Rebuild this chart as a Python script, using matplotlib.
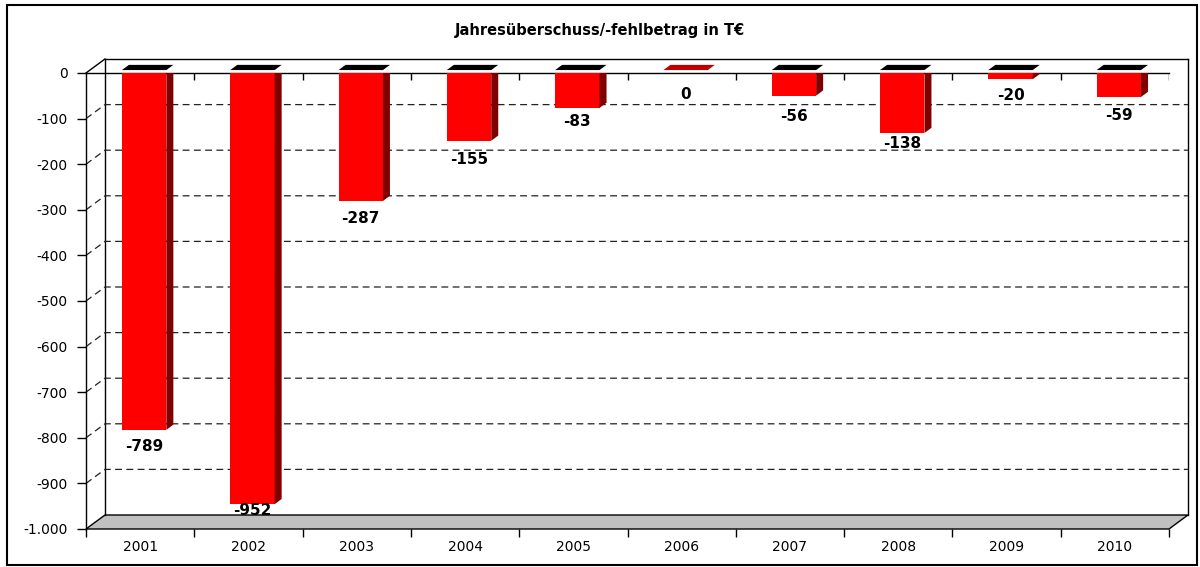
import numpy as np
import matplotlib.pyplot as plt
from matplotlib.patches import Polygon, Rectangle

# data
years = ["2001", "2002", "2003", "2004", "2005", "2006", "2007", "2008", "2009", "2010"]
values = [-789, -952, -287, -155, -83, 0, -56, -138, -20, -59]
ytick_vals = [0, -100, -200, -300, -400, -500, -600, -700, -800, -900, -1000]
ytick_labels = ["0", "-100", "-200", "-300", "-400", "-500", "-600", "-700", "-800", "-900", "-1.000"]
title = "Jahresüberschuss/-fehlbetrag in T€"

# label distance below bar end (pixels), excel placed them a bit unevenly
label_gap = [16.6, 6, 17.6, 18.6, 14, 24, 21, 11, 16, 18.7]

# fake 3d depth (data units): full depth of the plot box
DX = 0.175
DY = 30.7
d0, d1 = 0.21, 0.58   # bar front / back depth fraction
w = 0.41              # bar width in category units

fig = plt.figure(figsize=(12, 5.67), dpi=100)
fig.patch.set_facecolor("white")
ax = fig.add_axes([86 / 1200, 38 / 567, 1083 / 1200, 456 / 567])
ax.set_xlim(0, len(years))
ax.set_ylim(-1000, 0)
ax.patch.set_visible(False)
for s in ["top", "right", "bottom"]:
    ax.spines[s].set_visible(False)
ax.spines["left"].set_linewidth(1.0)

n = len(years)
y0, y1 = ytick_vals[-1], ytick_vals[0]

# floor
floor = Polygon([(0, y0), (n, y0), (n + DX, y0 + DY), (DX, y0 + DY)], closed=True,
                facecolor="#c0c0c0", edgecolor="black", lw=1.0, clip_on=False, zorder=1)
ax.add_patch(floor)

# back wall lines
ax.plot([DX, DX], [y0 + DY, y1 + DY], color="black", lw=1.0, clip_on=False, zorder=1)
ax.plot([n + DX, n + DX], [y0 + DY, y1 + DY], color="black", lw=1.0, clip_on=False, zorder=1)
ax.plot([DX, n + DX], [y1 + DY, y1 + DY], color="black", lw=1.0, clip_on=False, zorder=1)
ax.plot([0, DX], [y1, y1 + DY], color="black", lw=1.0, clip_on=False, zorder=1)

# dashed gridlines on the back wall
for v in ytick_vals[1:-1]:
    ax.plot([0, DX, n + DX], [v, v + DY, v + DY], color="#222222", lw=0.9,
            dashes=(5.5, 3.5), clip_on=False, zorder=1)

# zero line at the front with little ticks
ax.plot([0, n], [0, 0], color="black", lw=1.0, clip_on=False, zorder=2)
ax.vlines(np.arange(1, n + 1), -15, 0, color="black", lw=1.0, zorder=2)

# bars
x = np.arange(n) + 0.5 + d0 * DX
ax.bar(x, values, width=w, bottom=d0 * DY, color="#ff0000", edgecolor="none", zorder=3)
ddx = (d1 - d0) * DX
ddy = (d1 - d0) * DY
for xi, v, gap in zip(x, values, label_gap):
    r = xi + w / 2
    l = xi - w / 2
    top = d0 * DY
    if v != 0:
        side = Polygon([(r, top), (r + ddx, top + ddy), (r + ddx, v + d1 * DY), (r, v + top)],
                       closed=True, facecolor="#800000", edgecolor="none", zorder=3)
        ax.add_patch(side)
        topc = "black"
    else:
        topc = "#c00000"
    tp = Polygon([(l, top), (r, top), (r + ddx, top + ddy), (l + ddx, top + ddy)],
                 closed=True, facecolor=topc, edgecolor="none", zorder=3, clip_on=False)
    ax.add_patch(tp)
    ax.annotate(str(v), (xi, v + top), xytext=(0, -gap * 0.72), textcoords="offset points",
                ha="center", va="center", fontsize=11, fontweight="bold", zorder=4,
                annotation_clip=False)

# front bottom axis ticks and labels
ax.set_xticks(np.arange(0, n + 1))
ax.set_xticklabels([])
ax.set_xticks(np.arange(n) + 0.5, minor=True)
ax.set_xticklabels(years, minor=True, fontsize=10)
ax.tick_params(axis="x", which="major", direction="out", length=6, width=1.0)
ax.tick_params(axis="x", which="minor", length=0, pad=8)

ax.set_yticks(ytick_vals)
ax.set_yticklabels(ytick_labels, fontsize=10)
ax.tick_params(axis="y", direction="out", length=6.5, width=1.0, pad=6.5)

fig.text(0.5, 1 - 30 / 567, title, ha="center", va="center", fontsize=10.5, fontweight="bold")

# outer frame
fig.patches.append(Rectangle((7 / 1200, 2 / 567), 1190 / 1200, 560 / 567, transform=fig.transFigure,
                             fill=False, edgecolor="black", lw=1.5))

fig.savefig("out.png", dpi=100)
